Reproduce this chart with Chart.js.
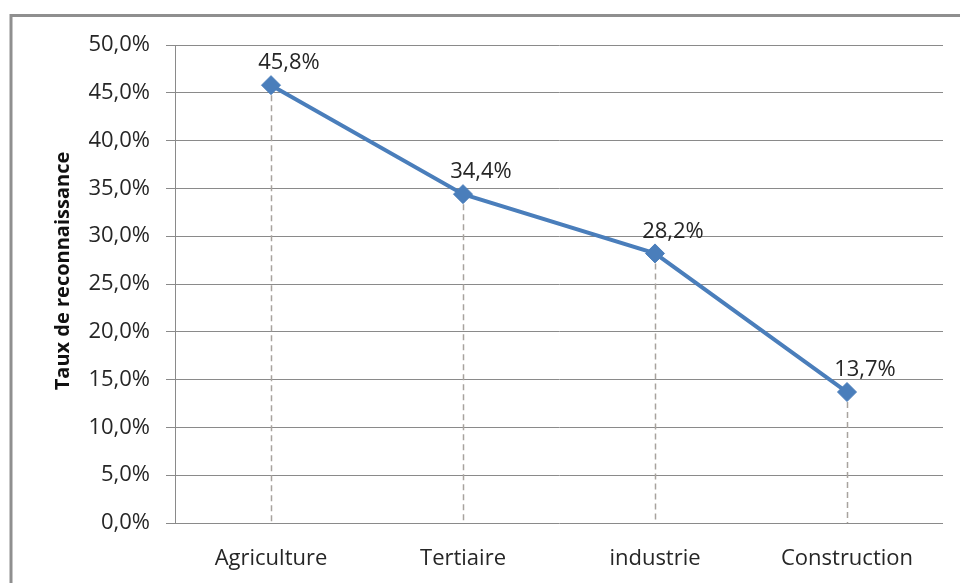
<!DOCTYPE html>
<html>
<head>
<meta charset="utf-8">
<script src="https://cdn.jsdelivr.net/npm/chart.js@4/dist/chart.umd.min.js"></script>
<style>
html,body{margin:0;padding:0;background:#fff;}
#wrap{width:960px;height:583px;position:relative;}
</style>
</head>
<body>
<div id="wrap"><canvas id="c" width="960" height="583"></canvas></div>
<script>
const categories = ['Agriculture', 'Tertiaire', 'industrie', 'Construction'];
const rates = [45.8, 34.4, 28.2, 13.7];
const yTicks = [0, 5, 10, 15, 20, 25, 30, 35, 40, 45, 50];
const yTitle = 'Taux de reconnaissance';

const FONT = "'Open Sans', 'Noto Sans', sans-serif";
const fmt = v => v.toFixed(1).replace('.', ',') + '%';

const framePlugin = {
  id: 'frame',
  beforeDraw(chart) {
    const ctx = chart.ctx;
    ctx.save();
    ctx.fillStyle = '#fff';
    ctx.fillRect(0, 0, chart.width, chart.height);
    ctx.strokeStyle = '#8f8f8f';
    ctx.lineWidth = 3;
    ctx.beginPath();
    ctx.moveTo(11, 583);
    ctx.lineTo(11, 15.5);
    ctx.lineTo(960, 15.5);
    ctx.stroke();
    ctx.restore();
  },
  afterDraw(chart) {
    const ctx = chart.ctx;
    ctx.save();
    ctx.translate(63, 271);
    ctx.rotate(-Math.PI / 2);
    ctx.font = 'bold 20px ' + FONT;
    ctx.fillStyle = '#111';
    ctx.textAlign = 'center';
    ctx.textBaseline = 'middle';
    ctx.fillText(yTitle, 0, 0);
    ctx.restore();
  }
};

const dropPlugin = {
  id: 'drops',
  beforeDatasetsDraw(chart) {
    const ctx = chart.ctx;
    const meta = chart.getDatasetMeta(0);
    const bottom = chart.scales.y.getPixelForValue(0);
    ctx.save();
    ctx.strokeStyle = '#a8a39e';
    ctx.lineWidth = 1.5;
    ctx.setLineDash([6, 4]);
    meta.data.forEach(pt => {
      ctx.beginPath();
      ctx.moveTo(Math.round(pt.x) + 0.5, pt.y);
      ctx.lineTo(Math.round(pt.x) + 0.5, bottom);
      ctx.stroke();
    });
    ctx.restore();
  }
};

const labelPlugin = {
  id: 'labels',
  afterDatasetsDraw(chart) {
    const ctx = chart.ctx;
    const meta = chart.getDatasetMeta(0);
    const data = chart.data.datasets[0].data;
    ctx.save();
    ctx.font = '22px ' + FONT;
    ctx.fillStyle = '#262626';
    ctx.textAlign = 'center';
    ctx.textBaseline = 'middle';
    meta.data.forEach((pt, i) => {
      ctx.fillText(fmt(data[i]), pt.x + 18, pt.y - 22);
    });
    ctx.restore();
  }
};

new Chart(document.getElementById('c'), {
  type: 'line',
  data: {
    labels: categories,
    datasets: [{
      data: rates,
      borderColor: '#4a7ebb',
      backgroundColor: '#4a7ebb',
      borderWidth: 4,
      pointStyle: 'rectRot',
      pointRadius: 9.5,
      pointHoverRadius: 9.5,
      pointBackgroundColor: '#4a7ebb',
      pointBorderColor: '#4a7ebb',
      pointBorderWidth: 1,
      tension: 0,
      fill: false
    }]
  },
  options: {
    responsive: false,
    animation: false,
    events: [],
    layout: { padding: { left: 0, top: 45, right: 17, bottom: 0 } },
    plugins: { legend: { display: false }, tooltip: { enabled: false } },
    scales: {
      x: {
        offset: true,
        grid: { display: false, drawTicks: false },
        border: { display: false },
        ticks: { color: '#262626', font: { family: FONT, size: 22 }, padding: 23, maxRotation: 0 },
        afterFit(s) { s.height = 60; }
      },
      y: {
        min: 0, max: 50,
        afterBuildTicks(s) { s.ticks = yTicks.map(v => ({ value: v })); },
        grid: { color: '#8a8a8a', lineWidth: 1, tickLength: 9, drawTicks: true },
        border: { display: true, color: '#8a8a8a', width: 1 },
        ticks: { color: '#262626', font: { family: FONT, size: 22 }, padding: 16, callback: v => fmt(v) },
        afterFit(s) { s.width = 175; }
      }
    }
  },
  plugins: [framePlugin, dropPlugin, labelPlugin]
});
</script>
</body>
</html>
